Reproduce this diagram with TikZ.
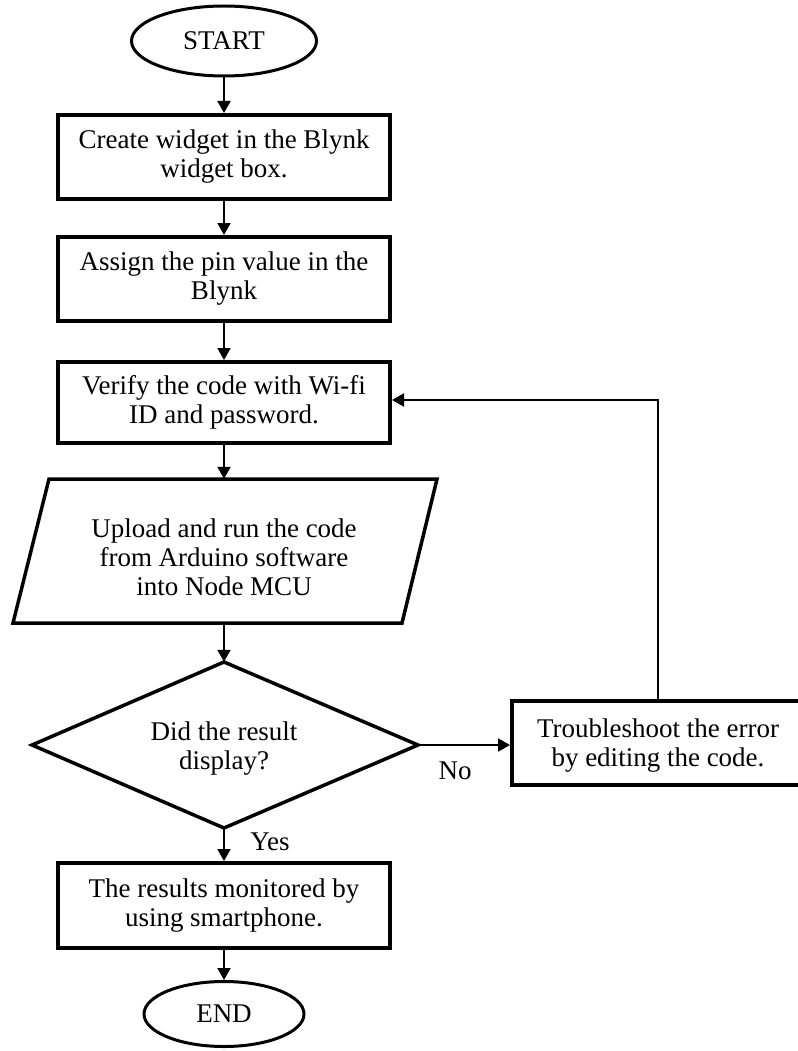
\documentclass[tikz,border=0pt]{standalone}
\usepackage{fontspec}
\setmainfont{Liberation Serif}
\usetikzlibrary{arrows.meta,shapes.geometric}
\begin{document}
\begin{tikzpicture}[x=1pt,y=-1pt,
  txt/.style={font=\fontsize{27}{29}\selectfont, align=center, inner sep=0pt},
  procbox/.style={txt, draw, line width=4pt, minimum width=332pt},
  term/.style={txt, draw, ellipse, line width=3pt},
  shapeline/.style={line width=3.5pt, line join=miter},
  conn/.style={line width=2pt, -{Triangle[length=12pt,width=13pt]}},
  lbl/.style={font=\fontsize{27}{29}\selectfont, inner sep=0pt}
]
\useasboundingbox (0,0) rectangle (797,1051);
% terminals
\node[term, minimum width=185pt, minimum height=70pt] (start) at (224,41) {START};
\node[term, minimum width=160pt, minimum height=65pt] (end) at (224,1014) {END};
% process boxes
\node[procbox, minimum height=84pt] (b1) at (224,157) {Create widget in the Blynk\\widget box.};
\node[procbox, minimum height=84pt] (b2) at (224,279) {Assign the pin value in the\\Blynk};
\node[procbox, minimum height=81pt] (b3) at (224,402.5) {Verify the code with Wi-fi\\ID and password.};
\node[procbox, minimum height=85pt] (b4) at (224,905.5) {The results monitored by\\using smartphone.};
\node[procbox, minimum width=292pt, minimum height=84pt] (tr) at (658,743) {};
\node[txt] (trtext) at (658,746) {Troubleshoot the error\\by editing the code.};
% parallelogram
\draw[shapeline] (49,479) -- (437,479) -- (402,623) -- (13,623) -- cycle;
\node[txt, minimum width=300pt, minimum height=144pt] (io) at (224,551) {};
\node[txt] (iotext) at (224,557) {Upload and run the code\\from Arduino software\\into Node MCU};
% diamond
\draw[shapeline] (224,662) -- (418,745) -- (224,828) -- (32,745) -- cycle;
\node[txt, minimum width=386pt, minimum height=166pt] (dec) at (224,745) {};
\node[txt] (dectext) at (224,749) {Did the result\\display?};
% connectors
\draw[conn] (start.south) -- (b1.north);
\draw[conn] (b1.south) -- (b2.north);
\draw[conn] (b2.south) -- (b3.north);
\draw[conn] (b3.south) -- (b3.south |- io.north);
\draw[conn] (io.south) -- (dec.north);
\draw[conn] (dec.south) -- (b4.north);
\draw[conn] (b4.south) -- (end.north);
\draw[conn] (dec.east) -- (dec.east -| tr.west);
\coordinate (loopc) at (658,400);
\draw[conn] (tr.north) -- (loopc) -- (loopc -| b3.east);
% labels
\node[lbl] (yes) at (270,842) {Yes};
\node[lbl] (no) at (455,771) {No};
\end{tikzpicture}
\end{document}
